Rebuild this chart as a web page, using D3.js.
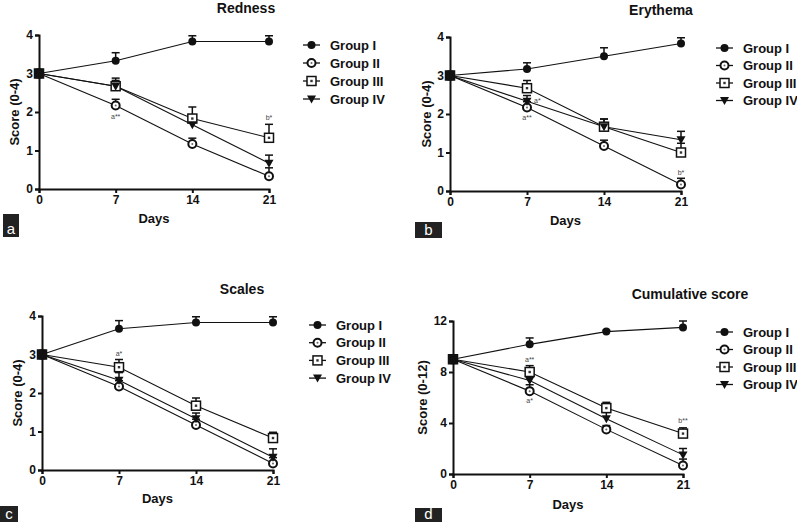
<!DOCTYPE html>
<html>
<head>
<meta charset="utf-8">
<script src="https://cdn.jsdelivr.net/npm/d3@7"></script>
<style>
  body { margin: 0; background: #fff; }
  svg text { font-family: "Liberation Sans", Arial, sans-serif; }
</style>
</head>
<body>
<div id="canvas"></div>
<script>
const days = [0, 7, 14, 21];
const groups = ["Group I", "Group II", "Group III", "Group IV"];

// means per group (I..IV), one value per day
const rednessMean = [
  [3, 3.33, 3.83, 3.83],
  [3, 2.17, 1.17, 0.33],
  [3, 2.67, 1.83, 1.33],
  [3, 2.67, 1.67, 0.67]
];
const rednessErr = [
  [0.08, 0.21, 0.15, 0.15],
  [0.08, 0.16, 0.15, 0.22],
  [0.08, 0.21, 0.3, 0.35],
  [0.08, 0.15, 0.15, 0.21]
];
const rednessNotes = [
  { day: 7, group: 1, text: "a**", dy: 14 },
  { day: 21, group: 2, text: "b*", dy: -18 }
];

const erythemaMean = [
  [3, 3.17, 3.5, 3.83],
  [3, 2.17, 1.17, 0.17],
  [3, 2.67, 1.67, 1.0],
  [3, 2.33, 1.67, 1.33]
];
const erythemaErr = [
  [0.08, 0.16, 0.22, 0.15],
  [0.08, 0.15, 0.15, 0.16],
  [0.08, 0.2, 0.2, 0.24],
  [0.08, 0.15, 0.2, 0.22]
];
const erythemaNotes = [
  { day: 7, group: 3, text: "a*", dx: 7, dy: 2 },
  { day: 7, group: 1, text: "a**", dy: 13 },
  { day: 21, group: 1, text: "b*", dy: -9 }
];

const scalesMean = [
  [3, 3.67, 3.83, 3.83],
  [3, 2.17, 1.17, 0.17],
  [3, 2.67, 1.67, 0.83],
  [3, 2.33, 1.33, 0.33]
];
const scalesErr = [
  [0.08, 0.21, 0.15, 0.15],
  [0.08, 0.15, 0.15, 0.15],
  [0.08, 0.2, 0.2, 0.15],
  [0.08, 0.2, 0.15, 0.22]
];
const scalesNotes = [
  { day: 7, group: 2, text: "a*", dy: -11 }
];

const cumulativeMean = [
  [9, 10.17, 11.17, 11.5],
  [9, 6.5, 3.5, 0.67],
  [9, 8.0, 5.17, 3.17],
  [9, 7.33, 4.33, 1.5]
];
const cumulativeErr = [
  [0.2, 0.5, 0.1, 0.5],
  [0.2, 0.5, 0.3, 0.5],
  [0.2, 0.5, 0.45, 0.45],
  [0.2, 0.5, 0.5, 0.5]
];
const cumulativeNotes = [
  { day: 7, group: 2, text: "a**", dy: -10 },
  { day: 7, group: 1, text: "a*", dy: 12 },
  { day: 21, group: 2, text: "b**", dy: -11 }
];

const width = 797;
const height = 522;

const svg = d3.select("#canvas").append("svg")
  .attr("width", width)
  .attr("height", height);

// draw one marker of the given group at (0,0) of g
const marker = (g, i) => {
  if (i === 0) {
    g.append("circle").attr("r", 4).attr("fill", "#111");
  } else if (i === 1) {
    g.append("circle").attr("r", 4).attr("fill", "#fff")
      .attr("stroke", "#111").attr("stroke-width", 2);
    g.append("circle").attr("r", 1).attr("fill", "#666");
  } else if (i === 2) {
    g.append("rect").attr("x", -4.5).attr("y", -4.5).attr("width", 9).attr("height", 9)
      .attr("fill", "#fff").attr("stroke", "#111").attr("stroke-width", 1.5);
    g.append("rect").attr("x", -1.2).attr("y", -1.2).attr("width", 2.4).attr("height", 2.4)
      .attr("fill", "#333");
  } else {
    g.append("path").attr("d", "M-4.5,-3.5L4.5,-3.5L0,4.5Z").attr("fill", "#111");
  }
};

const panels = [
  { title: "Redness", mean: rednessMean, err: rednessErr, notes: rednessNotes, yMax: 4, yTicks: [0, 1, 2, 3, 4], yLabel: "Score (0-4)",
    x0: 39, x1: 269, yTop: 35, yBot: 189, titleX: 246, titleY: 13, legX: 303, legY: 45, legStep: 18,
    daysY: 223, yLabelX: 19, letter: "a", box: [3, 214, 16, 23] },
  { title: "Erythema", mean: erythemaMean, err: erythemaErr, notes: erythemaNotes, yMax: 4, yTicks: [0, 1, 2, 3, 4], yLabel: "Score (0-4)",
    x0: 450, x1: 681, yTop: 37, yBot: 191, titleX: 661, titleY: 15, legX: 716, legY: 48, legStep: 17.5,
    daysY: 225, yLabelX: 431, letter: "b", box: [415, 222, 27, 16] },
  { title: "Scales", mean: scalesMean, err: scalesErr, notes: scalesNotes, yMax: 4, yTicks: [0, 1, 2, 3, 4], yLabel: "Score (0-4)",
    x0: 42, x1: 273, yTop: 316, yBot: 470, titleX: 242, titleY: 294, legX: 309, legY: 325, legStep: 17.7,
    daysY: 503, yLabelX: 22, letter: "c", box: [0, 506, 18, 16] },
  { title: "Cumulative score", mean: cumulativeMean, err: cumulativeErr, notes: cumulativeNotes, yMax: 12, yTicks: [0, 4, 8, 12], yLabel: "Score (0-12)",
    x0: 453, x1: 683, yTop: 321, yBot: 474, titleX: 690, titleY: 299, legX: 716, legY: 332, legStep: 17.5,
    daysY: 509, yLabelX: 427, letter: "d", box: [415, 508, 27, 14] }
];

const render = (p) => {
  const xScale = d3.scaleLinear().domain([0, 21]).range([p.x0, p.x1]);
  const yScale = d3.scaleLinear().domain([0, p.yMax]).range([p.yBot, p.yTop]);

  const g = svg.append("g");

  // axes
  const yAxis = g.append("g")
    .attr("transform", `translate(${p.x0},0)`)
    .call(d3.axisLeft(yScale).tickValues(p.yTicks).tickFormat(d3.format("d"))
      .tickSizeOuter(0).tickSize(4).tickPadding(2));
  const xAxis = g.append("g")
    .attr("transform", `translate(0,${p.yBot})`)
    .call(d3.axisBottom(xScale).tickValues(days).tickFormat(d3.format("d"))
      .tickSizeOuter(0).tickSize(4).tickPadding(2));
  [yAxis, xAxis].forEach(a => {
    a.select(".domain").attr("stroke", "#111").attr("stroke-width", 2);
    a.selectAll(".tick line").attr("stroke", "#111").attr("stroke-width", 2);
    a.selectAll(".tick text").attr("fill", "#111").attr("font-size", 12).attr("font-weight", "bold");
  });

  // lines
  const line = d3.line().x((d, i) => xScale(days[i])).y(d => yScale(d));
  p.mean.forEach((vals) => {
    g.append("path").attr("d", line(vals)).attr("fill", "none")
      .attr("stroke", "#111").attr("stroke-width", 1.1);
  });

  // upper error bars
  p.mean.forEach((vals, gi) => {
    vals.forEach((v, di) => {
      if (di === 0) return;
      const x = xScale(days[di]);
      const top = yScale(v + p.err[gi][di]);
      g.append("line").attr("x1", x).attr("x2", x).attr("y1", yScale(v)).attr("y2", top)
        .attr("stroke", "#111").attr("stroke-width", 1.5);
      g.append("line").attr("x1", x - 4).attr("x2", x + 4).attr("y1", top).attr("y2", top)
        .attr("stroke", "#111").attr("stroke-width", 1.5);
    });
  });

  // markers
  p.mean.forEach((vals, gi) => {
    vals.forEach((v, di) => {
      const m = g.append("g").attr("transform", `translate(${xScale(days[di])},${yScale(v)})`);
      marker(m, gi);
    });
  });
  // blob at day 0 where all groups overlap
  g.append("rect").attr("x", xScale(0) - 5).attr("y", yScale(p.mean[0][0]) - 5)
    .attr("width", 10).attr("height", 10).attr("rx", 3).attr("fill", "#111");

  // significance notes
  p.notes.forEach(n => {
    const di = days.indexOf(n.day);
    g.append("text")
      .attr("x", xScale(n.day) + (n.dx || 0))
      .attr("y", yScale(p.mean[n.group][di]) + n.dy)
      .attr("text-anchor", n.dx ? "start" : "middle")
      .attr("font-size", 7).attr("fill", "#444")
      .text(n.text);
  });

  // title and labels
  g.append("text").attr("x", p.titleX).attr("y", p.titleY).attr("text-anchor", "middle")
    .attr("font-size", 14).attr("font-weight", "bold").attr("fill", "#111").text(p.title);
  g.append("text").attr("x", (p.x0 + p.x1) / 2).attr("y", p.daysY).attr("text-anchor", "middle")
    .attr("font-size", 13).attr("font-weight", "bold").attr("fill", "#111").text("Days");
  g.append("text")
    .attr("transform", `translate(${p.yLabelX},${(p.yTop + p.yBot) / 2}) rotate(-90)`)
    .attr("text-anchor", "middle").attr("font-size", 13).attr("font-weight", "bold")
    .attr("fill", "#111").text(p.yLabel);

  // legend
  groups.forEach((name, i) => {
    const y = p.legY + i * p.legStep;
    g.append("line").attr("x1", p.legX).attr("x2", p.legX + 17).attr("y1", y).attr("y2", y)
      .attr("stroke", "#111").attr("stroke-width", 1.3);
    marker(g.append("g").attr("transform", `translate(${p.legX + 8.5},${y})`), i);
    g.append("text").attr("x", p.legX + 27).attr("y", y + 4.5)
      .attr("font-size", 13).attr("font-weight", "bold").attr("fill", "#111").text(name);
  });

  // panel letter
  g.append("rect").attr("x", p.box[0]).attr("y", p.box[1]).attr("width", p.box[2]).attr("height", p.box[3])
    .attr("fill", "#222");
  g.append("text").attr("x", p.box[0] + p.box[2] / 2).attr("y", p.box[1] + p.box[3] - 3.5)
    .attr("text-anchor", "middle").attr("font-size", 15).attr("fill", "#fff").text(p.letter);
};

panels.forEach(render);
</script>
</body>
</html>
